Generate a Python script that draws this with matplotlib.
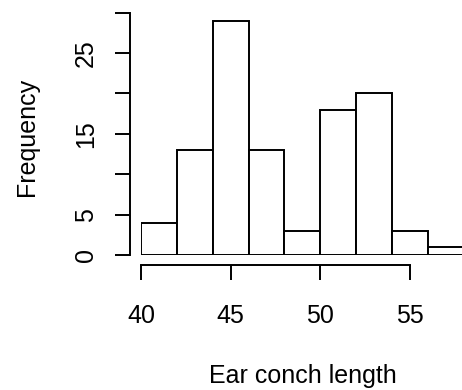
import matplotlib.pyplot as plt
import numpy as np

plt.rcParams['font.family'] = ['Liberation Sans', 'DejaVu Sans']

# histogram of ear conch length (bin width 2)
bin_edges = [40, 42, 44, 46, 48, 50, 52, 54, 56, 58]
counts = [4, 13, 29, 13, 3, 18, 20, 3, 1]
x_ticks = [40, 45, 50, 55]
y_ticks = [0, 5, 10, 15, 20, 25, 30]
y_labels = ['0', '5', '', '15', '', '25', '']

W, H = 462, 390
fig = plt.figure(figsize=(W / 100, H / 100), dpi=100)
px_per_x = 269 / 15
px_per_y = 202 / 25
left, bottom_px = 141, 255
ax = fig.add_axes([left / W, (H - bottom_px) / H, (W - left) / W, 30 * px_per_y / H])
ax.set_xlim(40, 40 + (W - left) / px_per_x)
ax.set_ylim(0, 30)

widths = np.diff(bin_edges)
ax.bar(bin_edges[:-1], counts, width=widths, align='edge', color='white',
       edgecolor='black', linewidth=1.4, clip_on=True)

for s in ['top', 'right']:
    ax.spines[s].set_visible(False)
ax.spines['left'].set_position(('outward', 8))
ax.spines['bottom'].set_position(('outward', 7))
ax.spines['left'].set_bounds(0, 30)
ax.spines['bottom'].set_bounds(40, 55)
for s in ['left', 'bottom']:
    ax.spines[s].set_linewidth(1.4)

ax.set_xticks(x_ticks)
ax.set_yticks(y_ticks)
ax.set_yticklabels(y_labels, rotation=90, va='center')
ax.tick_params(length=11, width=1.4, labelsize=18, direction='out')
ax.tick_params(axis='x', pad=17)
ax.tick_params(axis='y', pad=12)

fig.text(303 / W, 1 - 383 / H, 'Ear conch length', ha='center', va='baseline', fontsize=18)
fig.text(27 / W, 1 - 137 / H, 'Frequency', ha='center', va='center', rotation=90, fontsize=18)

fig.savefig('out.png', dpi=100)
